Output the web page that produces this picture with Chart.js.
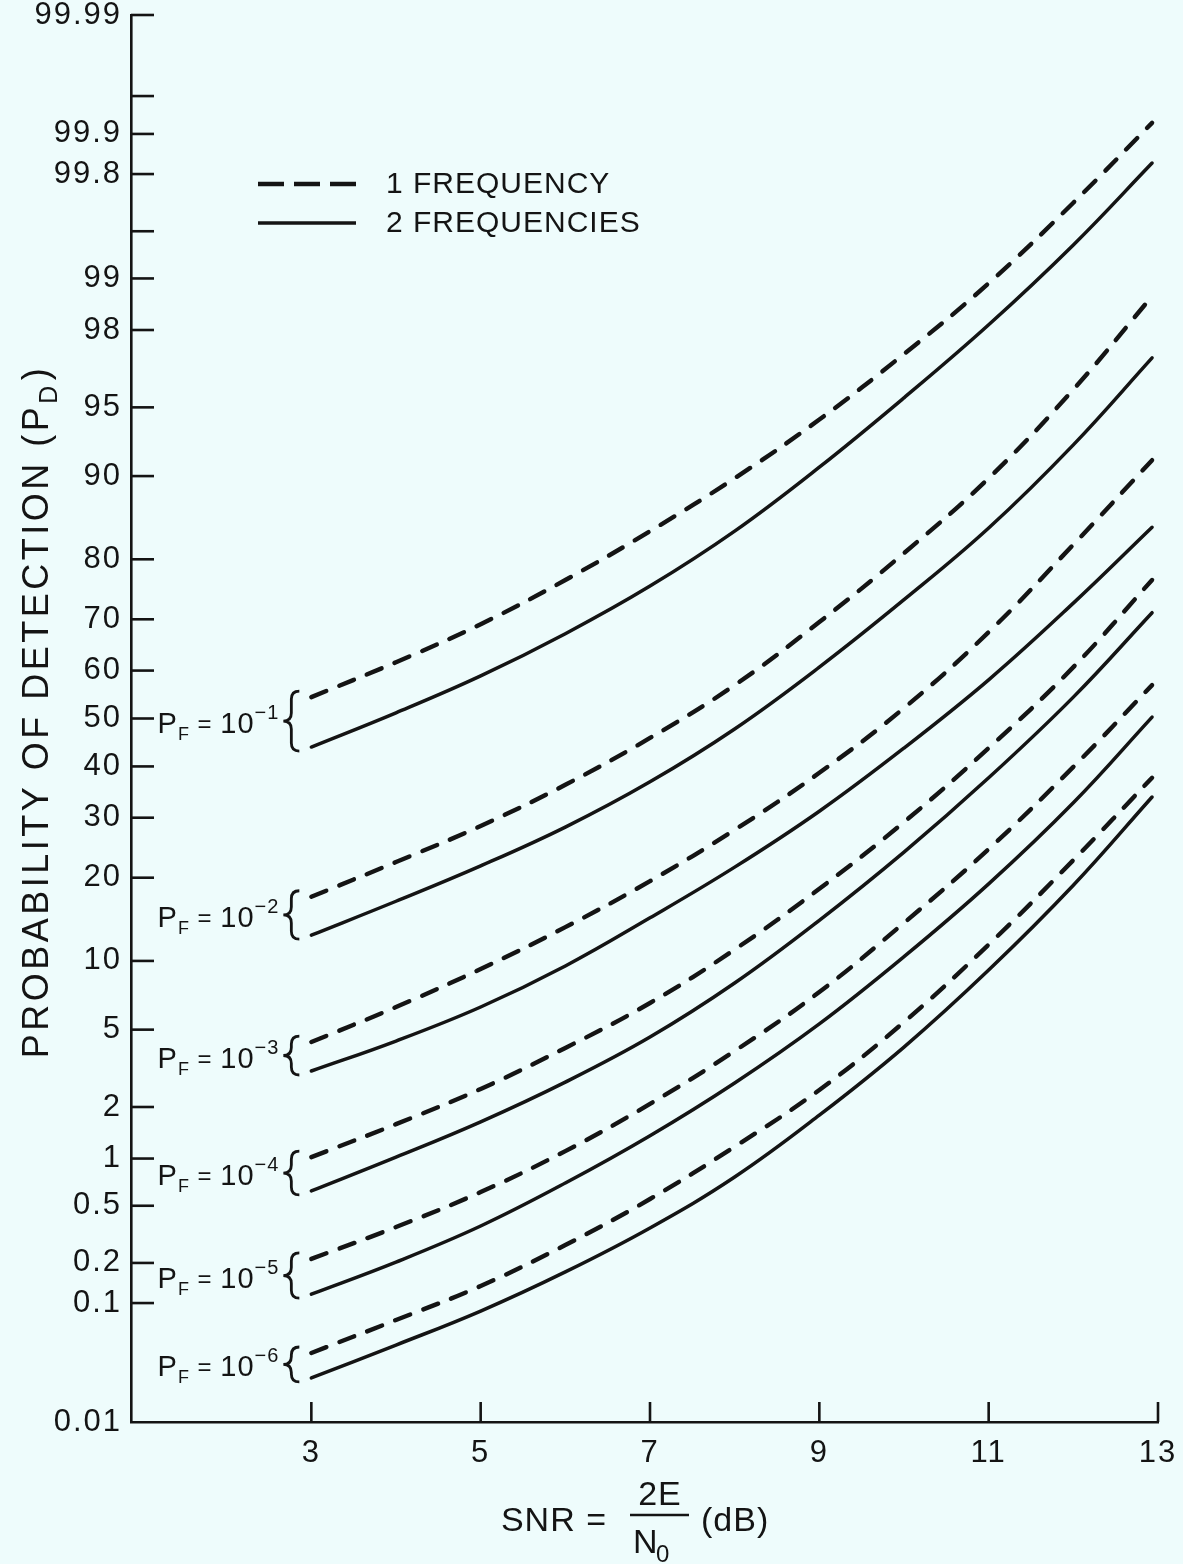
<!DOCTYPE html>
<html>
<head>
<meta charset="utf-8">
<title>Probability of detection vs SNR</title>
<script src="https://cdn.jsdelivr.net/npm/chart.js@4.4.1/dist/chart.umd.min.js"></script>
<style>
  html, body { margin: 0; padding: 0; background: #eefcfc; }
  #grafico-box { width: 1183px; height: 1564px; position: relative; }
</style>
</head>
<body>
<div id="grafico-box"><canvas id="grafico"></canvas></div>
<script>
// SNR (dB) where the curves were read
const snr = [3, 4, 5, 6, 7, 8, 9, 10, 11, 12, 12.93];

// P_D (%); pd1 = 1 frequency (dashed), pd2 = 2 frequencies (solid)
const pd1_1 = [54.5, 61.7, 69.1, 76.8, 83.9, 89.8, 94.3, 97.3, 98.93, 99.68, 99.918];
const pd2_1 = [44.0, 51.2, 58.9, 67.3, 75.8, 83.9, 90.8, 95.5, 98.13, 99.385, 99.834];
const pd1_2 = [17.3, 22.4, 28.5, 36.3, 45.9, 57.0, 69.5, 80.9, 89.8, 95.9, 98.72];
const pd2_2 = [12.6, 16.7, 21.8, 28.3, 36.9, 47.8, 60.7, 73.5, 84.3, 92.6, 97.17];
const pd1_3 = [4.36, 6.36, 9.27, 13.5, 19.5, 27.8, 38.7, 52.2, 67.6, 82.1, 91.4];
const pd2_3 = [3.12, 4.41, 6.36, 9.54, 14.6, 21.6, 31.2, 43.8, 58.1, 72.9, 84.4];
const pd1_4 = [1.02, 1.60, 2.51, 4.08, 6.63, 11.1, 18.4, 29.2, 43.8, 60.7, 76.8];
const pd2_4 = [0.625, 1.02, 1.65, 2.73, 4.61, 8.10, 14.3, 24.0, 37.7, 54.5, 71.2];
const pd1_5 = [0.214, 0.359, 0.615, 1.11, 2.08, 3.94, 7.41, 14.0, 24.5, 39.9, 57.0];
const pd2_5 = [0.117, 0.203, 0.365, 0.703, 1.37, 2.70, 5.32, 10.4, 19.1, 32.8, 50.3];
const pd1_6 = [0.0398, 0.0737, 0.135, 0.269, 0.554, 1.18, 2.48, 5.43, 11.6, 22.7, 37.7];
const pd2_6 = [0.0245, 0.0463, 0.0867, 0.172, 0.354, 0.768, 1.80, 4.12, 9.18, 18.9, 33.9];

// P_F exponents, one per pair of curves
const pfExpoentes = ['-1', '-2', '-3', '-4', '-5', '-6'];

// probability axis ticks
const pdTicks = [99.99, 99.95, 99.9, 99.8, 99.5, 99, 98, 95, 90, 80, 70, 60, 50, 40, 30, 20, 10, 5, 2, 1, 0.5, 0.2, 0.1, 0.01];
const pdTickLabels = ['99.99', '', '99.9', '99.8', '', '99', '98', '95', '90', '80', '70', '60', '50', '40', '30', '20', '10', '5', '2', '1', '0.5', '0.2', '0.1', '0.01'];
const snrTicks = [3, 5, 7, 9, 11, 13];

const legendas = ['1 FREQUENCY', '2 FREQUENCIES'];

const fundo = '#eefcfc';
const tinta = '#141414';
const fonte = '"Liberation Sans", Arial, sans-serif';

// inverse normal CDF (Acklam), for the normal probability axis
function probit(p) {
    const a = [-39.69683028665376, 220.9460984245205, -275.9285104469687, 138.3577518672690, -30.66479806614716, 2.506628277459239];
    const b = [-54.47609879822406, 161.5858368580409, -155.6989798598866, 66.80131188771972, -13.28068155288572];
    const c = [-0.007784894002430293, -0.3223964580411365, -2.400758277161838, -2.549732539343734, 4.374664141464968, 2.938163982698783];
    const d = [0.007784695709041462, 0.3224671290700398, 2.445134137142996, 3.754408661907416];
    const pl = 0.02425;
    let q, r;
    if (p < pl) {
        q = Math.sqrt(-2 * Math.log(p));
        return (((((c[0] * q + c[1]) * q + c[2]) * q + c[3]) * q + c[4]) * q + c[5]) /
            ((((d[0] * q + d[1]) * q + d[2]) * q + d[3]) * q + 1);
    }
    if (p > 1 - pl) {
        q = Math.sqrt(-2 * Math.log(1 - p));
        return -(((((c[0] * q + c[1]) * q + c[2]) * q + c[3]) * q + c[4]) * q + c[5]) /
            ((((d[0] * q + d[1]) * q + d[2]) * q + d[3]) * q + 1);
    }
    q = p - 0.5;
    r = q * q;
    return (((((a[0] * r + a[1]) * r + a[2]) * r + a[3]) * r + a[4]) * r + a[5]) * q /
        (((((b[0] * r + b[1]) * r + b[2]) * r + b[3]) * r + b[4]) * r + 1);
}

function pontos(pd) {
    return snr.map((x, i) => ({ x: x, y: probit(pd[i] / 100) }));
}

const pares = [[pd1_1, pd2_1], [pd1_2, pd2_2], [pd1_3, pd2_3], [pd1_4, pd2_4], [pd1_5, pd2_5], [pd1_6, pd2_6]];

const estiloTracejado = { borderColor: tinta, borderWidth: 4.4, borderDash: [16, 14], borderCapStyle: 'round' };
const estiloCheio = { borderColor: tinta, borderWidth: 3.5, borderCapStyle: 'round' };

const datasets = [];
pares.forEach((par, i) => {
    datasets.push(Object.assign({ label: legendas[0] + ' 10^' + pfExpoentes[i], data: pontos(par[0]) }, estiloTracejado));
    datasets.push(Object.assign({ label: legendas[1] + ' 10^' + pfExpoentes[i], data: pontos(par[1]) }, estiloCheio));
});

// draws inward ticks, braces, P_F labels, legend and axis titles
const desenho = {
    id: 'desenho',
    beforeDraw(chart) {
        const ctx = chart.ctx;
        ctx.save();
        ctx.fillStyle = fundo;
        ctx.fillRect(0, 0, chart.width, chart.height);
        ctx.restore();
        ctx.letterSpacing = '2px';
    },
    afterDraw(chart) {
        const ctx = chart.ctx;
        const xs = chart.scales.x;
        const ys = chart.scales.y;
        const area = chart.chartArea;
        ctx.save();
        ctx.letterSpacing = '0px';
        ctx.strokeStyle = tinta;
        ctx.fillStyle = tinta;
        ctx.lineWidth = 2.6;

        // y ticks, pointing into the plot
        pdTicks.forEach((p, i) => {
            if (i === pdTicks.length - 1) return;
            const y = ys.getPixelForValue(probit(p / 100));
            ctx.beginPath();
            ctx.moveTo(area.left, y);
            ctx.lineTo(area.left + 23, y);
            ctx.stroke();
        });
        // x ticks, pointing up
        snrTicks.forEach(v => {
            const x = xs.getPixelForValue(v);
            ctx.beginPath();
            ctx.moveTo(x, area.bottom);
            ctx.lineTo(x, area.bottom - 20);
            ctx.stroke();
        });

        // braces and P_F labels at the start of each pair
        const x3 = xs.getPixelForValue(snr[0]);
        pares.forEach((par, i) => {
            const yTop = ys.getPixelForValue(probit(par[0][0] / 100)) - 6;
            const yBot = ys.getPixelForValue(probit(par[1][0] / 100)) + 4;
            const ym = (yTop + yBot) / 2;
            const xr = x3 - 12, xm = x3 - 20, xt = x3 - 28, r = 8;
            ctx.lineWidth = 2.8;
            ctx.beginPath();
            ctx.moveTo(xr, yTop);
            ctx.quadraticCurveTo(xm, yTop, xm, yTop + r);
            ctx.lineTo(xm, ym - r);
            ctx.quadraticCurveTo(xm, ym, xt, ym);
            ctx.quadraticCurveTo(xm, ym, xm, ym + r);
            ctx.lineTo(xm, yBot - r);
            ctx.quadraticCurveTo(xm, yBot, xr, yBot);
            ctx.stroke();

            const partes = [
                { t: 'P', s: 29, dy: 0 },
                { t: 'F', s: 18, dy: 7 },
                { t: ' = ', s: 24, dy: -1 },
                { t: '10', s: 29, dy: 0 },
                { t: pfExpoentes[i].replace('-', '\u2212'), s: 20, dy: -14 }
            ];
            ctx.letterSpacing = '1px';
            let total = 0;
            partes.forEach(pt => {
                ctx.font = pt.s + 'px ' + fonte;
                pt.w = ctx.measureText(pt.t).width;
                total += pt.w;
            });
            let x = xt - 4 - total;
            const base = ym + 12;
            ctx.textAlign = 'left';
            ctx.textBaseline = 'alphabetic';
            partes.forEach(pt => {
                ctx.font = pt.s + 'px ' + fonte;
                ctx.fillText(pt.t, x, base + pt.dy);
                x += pt.w;
            });
            ctx.letterSpacing = '0px';
        });

        // legend
        const lx = area.left + 127;
        const ly = [area.top + 169, area.top + 208];
        ctx.font = '30px ' + fonte;
        ctx.textBaseline = 'middle';
        [estiloTracejado, estiloCheio].forEach((est, i) => {
            ctx.lineWidth = est.borderWidth;
            ctx.setLineDash(est.borderDash ? [26, 10] : []);
            ctx.lineCap = 'butt';
            ctx.beginPath();
            ctx.moveTo(lx, ly[i]);
            ctx.lineTo(lx + 98, ly[i]);
            ctx.stroke();
            ctx.setLineDash([]);
            ctx.letterSpacing = '1px';
            ctx.fillText(legendas[i], lx + 128, ly[i] + 1);
            ctx.letterSpacing = '0px';
        });

        // y axis title, rotated, with subscript D
        ctx.save();
        ctx.translate(48, (area.top + area.bottom) / 2 - 6);
        ctx.rotate(-Math.PI / 2);
        ctx.textBaseline = 'alphabetic';
        ctx.letterSpacing = '3.5px';
        const t1 = 'PROBABILITY OF DETECTION (P', t2 = 'D', t3 = ')';
        ctx.font = '36px ' + fonte;
        const w1 = ctx.measureText(t1).width, w3 = ctx.measureText(t3).width;
        ctx.font = '25px ' + fonte;
        const w2 = ctx.measureText(t2).width;
        const tx = -(w1 + w2 + w3) / 2;
        ctx.font = '36px ' + fonte;
        ctx.fillText(t1, tx, 0);
        ctx.font = '25px ' + fonte;
        ctx.fillText(t2, tx + w1, 9);
        ctx.font = '36px ' + fonte;
        ctx.fillText(t3, tx + w1 + w2 + 2, 0);
        ctx.restore();

        // x axis title: SNR = 2E / N0 (dB)
        const fx = area.left + 528;
        const fy = area.bottom + 93;
        ctx.letterSpacing = '1px';
        ctx.font = '34px ' + fonte;
        ctx.textBaseline = 'alphabetic';
        ctx.textAlign = 'right';
        ctx.fillText('SNR =', fx - 52, fy + 16);
        ctx.textAlign = 'center';
        ctx.fillText('2E', fx + 1, fy - 10);
        ctx.lineWidth = 2.4;
        ctx.beginPath();
        ctx.moveTo(fx - 29, fy);
        ctx.lineTo(fx + 30, fy);
        ctx.stroke();
        ctx.textAlign = 'left';
        ctx.fillText('N', fx - 26, fy + 38);
        ctx.font = '24px ' + fonte;
        ctx.fillText('0', fx - 3, fy + 47);
        ctx.font = '34px ' + fonte;
        ctx.fillText('(dB)', fx + 42, fy + 16);
        ctx.restore();
    }
};

const config = {
    type: 'line',
    data: { datasets: datasets },
    options: {
        responsive: true,
        maintainAspectRatio: false,
        animation: false,
        devicePixelRatio: 1,
        layout: { padding: { top: 15, right: 25, left: 0, bottom: 0 } },
        elements: {
            point: { radius: 0 },
            line: { tension: 0.4 }
        },
        scales: {
            x: {
                type: 'linear',
                min: 0.87,
                max: 13,
                afterBuildTicks: scale => { scale.ticks = snrTicks.map(v => ({ value: v })); },
                afterFit: scale => { scale.height = 142; scale.paddingLeft = 0; scale.paddingRight = 0; },
                grid: { display: false, drawTicks: false },
                border: { display: true, color: tinta, width: 2.6 },
                ticks: {
                    autoSkip: false,
                    maxRotation: 0,
                    padding: 13,
                    color: tinta,
                    font: { size: 31, family: fonte }
                }
            },
            y: {
                type: 'linear',
                min: probit(0.0001),
                max: probit(0.9999),
                afterBuildTicks: scale => { scale.ticks = pdTicks.map(p => ({ value: probit(p / 100) })); },
                afterFit: scale => { scale.width = 131; scale.paddingTop = 0; scale.paddingBottom = 0; },
                grid: { display: false, drawTicks: false },
                border: { display: true, color: tinta, width: 2.6 },
                ticks: {
                    autoSkip: false,
                    padding: 9,
                    color: tinta,
                    font: { size: 31, family: fonte },
                    callback: (valor, indice) => pdTickLabels[indice]
                }
            }
        },
        plugins: {
            legend: { display: false },
            tooltip: { enabled: false }
        }
    },
    plugins: [desenho]
};

const chart = new Chart(document.getElementById('grafico'), config);
</script>
</body>
</html>
